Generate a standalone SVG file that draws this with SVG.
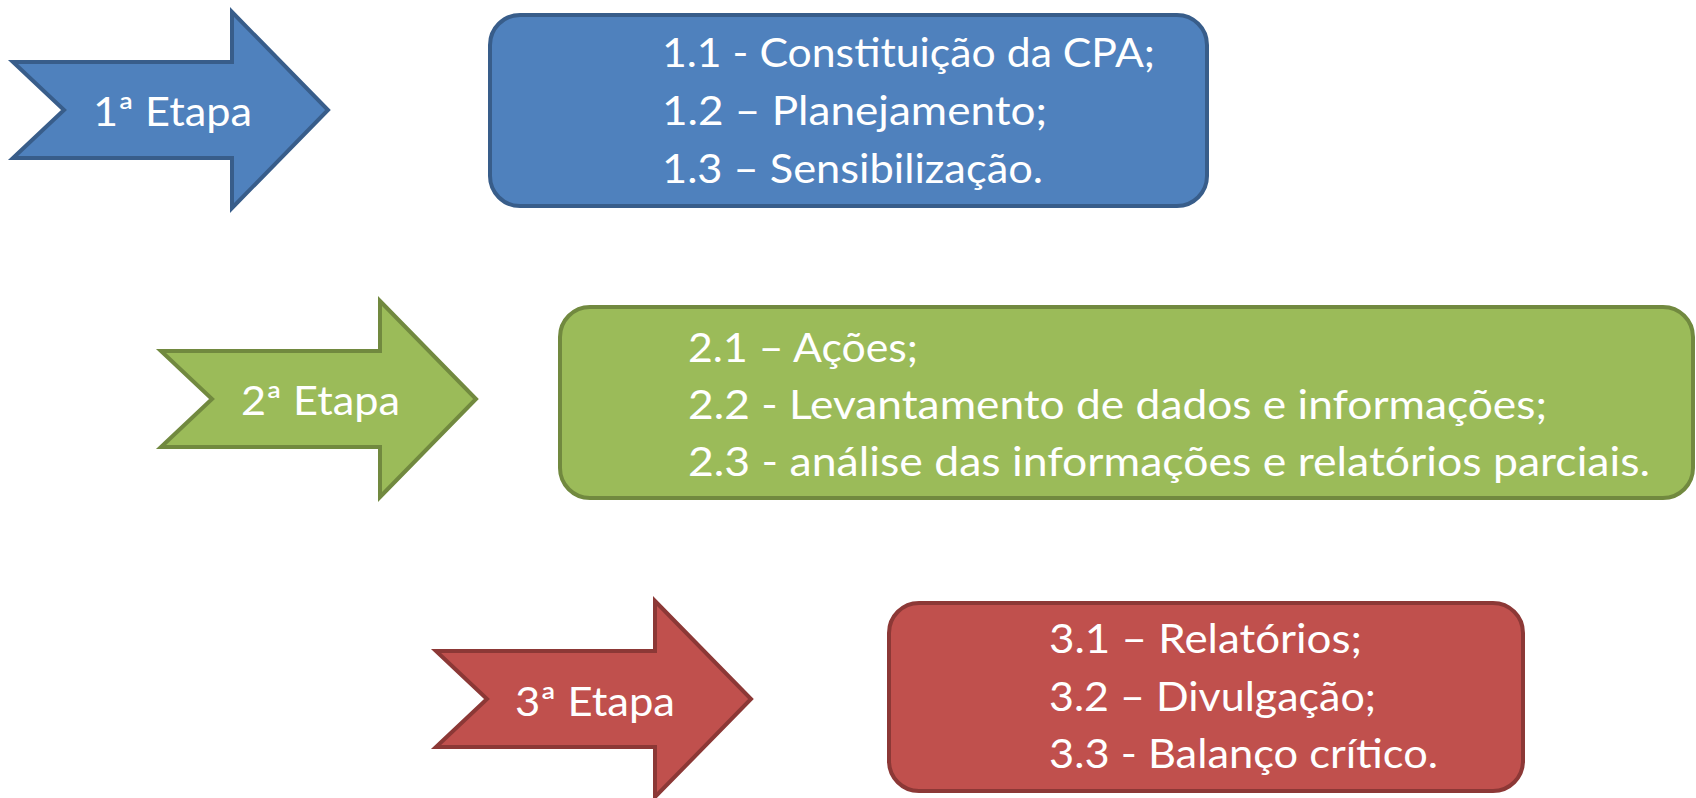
<svg xmlns="http://www.w3.org/2000/svg" width="1696" height="798" viewBox="0 0 1696 798">
  <defs>
    <path id="arrowShape" d="M0,50 H219 V0 L315,98 L219,196 V146 H0 L51,98 Z"/>
  </defs>
  <style>
    .t { font-family: Lato, "Open Sans", "Liberation Sans", sans-serif; font-size: 40px; fill: #FFFFFF; }
    .blue { fill: #4F81BD; stroke: #385D8A; stroke-width: 4; stroke-linejoin: miter; }
    .green { fill: #9BBB59; stroke: #71893F; stroke-width: 4; stroke-linejoin: miter; }
    .red { fill: #C0504D; stroke: #8C3836; stroke-width: 4; stroke-linejoin: miter; }
  </style>
  <rect x="0" y="0" width="1696" height="798" fill="#FFFFFF"/>

  <g id="connectors"></g>

  <g id="etapa1">
    <use href="#arrowShape" class="blue" transform="translate(13,12)"/>
    <text class="t" x="93" y="126" textLength="159" lengthAdjust="spacingAndGlyphs">1ª Etapa</text>
  </g>

  <g id="box1">
    <rect class="blue" x="490" y="15" width="717" height="191" rx="30" ry="30"/>
    <text class="t" x="662" y="67" textLength="493" lengthAdjust="spacingAndGlyphs">1.1 - Constituição da CPA;</text>
    <text class="t" x="662" y="125" textLength="385" lengthAdjust="spacingAndGlyphs">1.2 – Planejamento;</text>
    <text class="t" x="662" y="183" textLength="381" lengthAdjust="spacingAndGlyphs">1.3 – Sensibilização.</text>
  </g>

  <g id="etapa2">
    <use href="#arrowShape" class="green" transform="translate(161,301)"/>
    <text class="t" x="241" y="415" textLength="159" lengthAdjust="spacingAndGlyphs">2ª Etapa</text>
  </g>

  <g id="box2">
    <rect class="green" x="560" y="307" width="1133" height="191" rx="30" ry="30"/>
    <text class="t" x="688" y="362" textLength="230" lengthAdjust="spacingAndGlyphs">2.1 – Ações;</text>
    <text class="t" x="688" y="419" textLength="859" lengthAdjust="spacingAndGlyphs">2.2 - Levantamento de dados e informações;</text>
    <text class="t" x="688" y="476" textLength="962" lengthAdjust="spacingAndGlyphs">2.3 - análise das informações e relatórios parciais.</text>
  </g>

  <g id="etapa3">
    <use href="#arrowShape" class="red" transform="translate(436,601)"/>
    <text class="t" x="515" y="716" textLength="160" lengthAdjust="spacingAndGlyphs">3ª Etapa</text>
  </g>

  <g id="box3">
    <rect class="red" x="889" y="603" width="634" height="188" rx="30" ry="30"/>
    <text class="t" x="1049" y="653" textLength="313" lengthAdjust="spacingAndGlyphs">3.1 – Relatórios;</text>
    <text class="t" x="1049" y="711" textLength="327" lengthAdjust="spacingAndGlyphs">3.2 – Divulgação;</text>
    <text class="t" x="1049" y="768" textLength="389" lengthAdjust="spacingAndGlyphs">3.3 - Balanço crítico.</text>
  </g>
</svg>
